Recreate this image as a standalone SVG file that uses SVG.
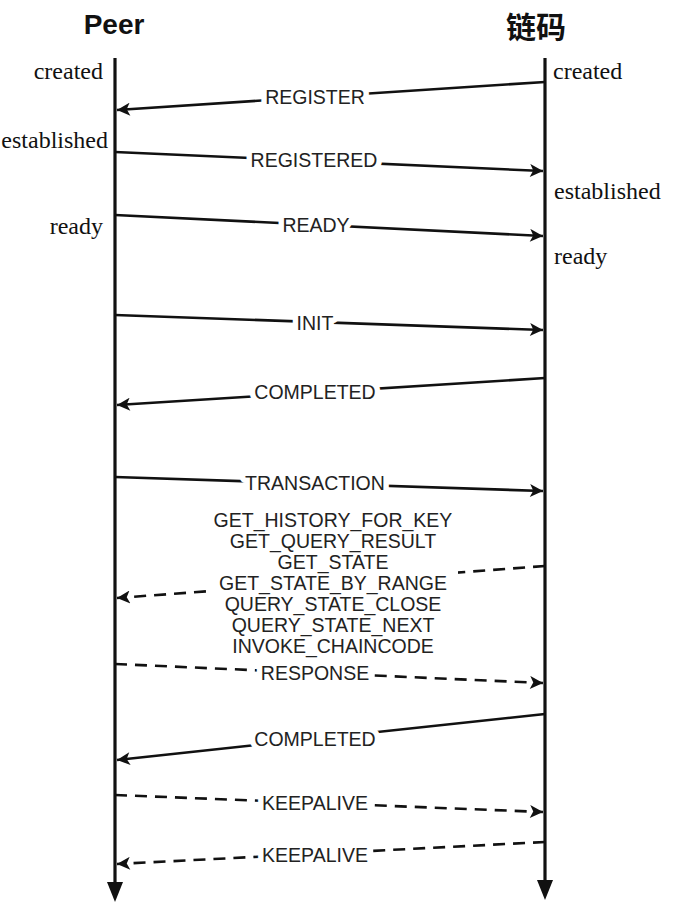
<svg xmlns="http://www.w3.org/2000/svg" width="682" height="906" viewBox="0 0 682 906">
<style>
.hdr{font-family:"Liberation Sans","Noto Sans CJK SC",sans-serif;font-weight:bold;fill:#111;text-anchor:middle}
.st{font-family:"Liberation Serif",serif;font-size:24px;fill:#111}
.lbl{font-family:"Liberation Sans",Arial,sans-serif;font-size:19.5px;fill:#222;text-anchor:middle;stroke:#fff;stroke-width:11px;paint-order:stroke;stroke-linejoin:round}
.blk{font-family:"Liberation Sans",Arial,sans-serif;font-size:19.5px;fill:#222;text-anchor:middle}
.life{stroke:#111;stroke-width:3.2;fill:none}
.msg{stroke:#111;stroke-width:2.6;fill:none;marker-end:url(#ah)}
.dash{stroke-dasharray:12 8}
</style>
<defs>
<marker id="ah" viewBox="0 0 10 10" refX="10" refY="5" markerWidth="6" markerHeight="5" orient="auto" markerUnits="strokeWidth">
<path d="M0,0 L10,5 L0,10 L2.5,5 Z" fill="#111"/>
</marker>
</defs>

<g id="peer">
<text class="hdr" x="114" y="34" font-size="28">Peer</text>
<line class="life" x1="115" y1="58" x2="115" y2="884"/>
<path d="M107,882 L123,882 L115,902 Z" fill="#111"/>
<text class="st" x="103" y="79" text-anchor="end">created</text>
<text class="st" x="108" y="148" text-anchor="end">established</text>
<text class="st" x="103" y="234" text-anchor="end">ready</text>
</g>

<g id="chaincode">
<text class="hdr" x="536" y="38" font-size="30">链码</text>
<line class="life" x1="545" y1="58" x2="545" y2="882"/>
<path d="M537,880 L553,880 L545,900 Z" fill="#111"/>
<text class="st" x="553" y="79">created</text>
<text class="st" x="554" y="199">established</text>
<text class="st" x="554" y="264">ready</text>
</g>

<g id="connectors">
<line class="msg" x1="545" y1="82" x2="117" y2="110"/>
<line class="msg" x1="115" y1="152" x2="543" y2="171"/>
<line class="msg" x1="115" y1="215" x2="543" y2="236"/>
<line class="msg" x1="115" y1="315" x2="543" y2="330"/>
<line class="msg" x1="545" y1="378" x2="117" y2="405"/>
<line class="msg" x1="115" y1="477" x2="543" y2="491"/>
<line class="msg dash" x1="545" y1="566" x2="117" y2="598"/>
<line class="msg dash" x1="115" y1="664" x2="543" y2="683"/>
<line class="msg" x1="545" y1="714" x2="117" y2="760"/>
<line class="msg dash" x1="115" y1="795" x2="543" y2="812"/>
<line class="msg dash" x1="545" y1="842" x2="117" y2="864"/>
</g>

<g id="labels">
<text class="lbl" x="315" y="104">REGISTER</text>
<text class="lbl" x="314" y="167">REGISTERED</text>
<text class="lbl" x="316" y="232">READY</text>
<text class="lbl" x="315" y="330">INIT</text>
<text class="lbl" x="315" y="399">COMPLETED</text>
<text class="lbl" x="315" y="490">TRANSACTION</text>
<rect x="210" y="506" width="248" height="150" fill="#fff"/>
<text class="blk" x="333" y="527">GET_HISTORY_FOR_KEY</text>
<text class="blk" x="333" y="548">GET_QUERY_RESULT</text>
<text class="blk" x="333" y="569">GET_STATE</text>
<text class="blk" x="333" y="590">GET_STATE_BY_RANGE</text>
<text class="blk" x="333" y="611">QUERY_STATE_CLOSE</text>
<text class="blk" x="333" y="632">QUERY_STATE_NEXT</text>
<text class="blk" x="333" y="653">INVOKE_CHAINCODE</text>
<text class="lbl" x="315" y="680">RESPONSE</text>
<text class="lbl" x="315" y="746">COMPLETED</text>
<text class="lbl" x="315" y="810">KEEPALIVE</text>
<text class="lbl" x="315" y="862">KEEPALIVE</text>
</g>
</svg>
